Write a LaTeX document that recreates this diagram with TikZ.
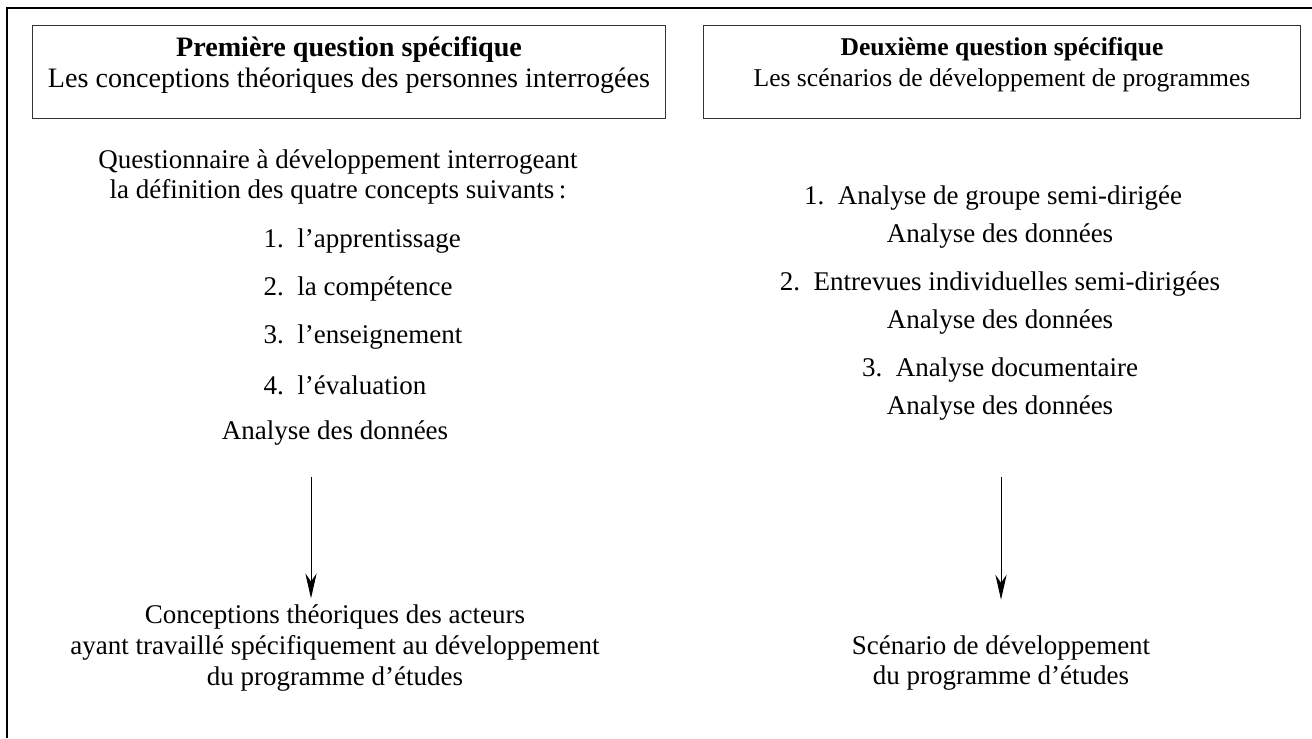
\documentclass[tikz,border=0pt]{standalone}
\usepackage{fontspec}
\setmainfont{Liberation Serif}
\usetikzlibrary{arrows.meta, positioning}

\begin{document}
\begin{tikzpicture}[x=0.025cm, y=-0.025cm]
	\tikzset {>={Stealth[length=0.62cm, width=0.28cm]}, every node/.style={font=\fontsize{19.2}{22}\selectfont, align=center, inner sep=1pt}, head/.style={draw=black!80, line width=0.7pt, minimum height=2.3cm} }

	\useasboundingbox (0,0) rectangle (1312,738);
	\draw[line width=1.6pt] (7,738) -- (7,8) -- (1312,8);

	% the two questions
	\node[head, minimum width=15.8cm] (q1) at (349,72) {};
	\node[font=\fontsize{20}{22}\selectfont] (t1) at (349,65) {\textbf{Première question spécifique}\\Les conceptions théoriques des personnes interrogées};
	\node[head, minimum width=14.9cm] (q2) at (1002,72) {};
	\node[font=\fontsize{18.2}{22}\selectfont] (t2) at (1002,65) {\textbf{Deuxième question spécifique}\\Les scénarios de développement de programmes};

	% first question
	\node (quest) at (338,177) {Questionnaire à développement interrogeant\\la définition des quatre concepts suivants\,:};
	\node[anchor=west] (c1) at (262,241) {1.\ \ l'apprentissage};
	\node[below=1.2cm of c1.west, anchor=west] (c2) {2.\ \ la compétence};
	\node[below=1.2cm of c2.west, anchor=west] (c3) {3.\ \ l'enseignement};
	\node[below=1.2cm of c3.west, anchor=west] (c4) {4.\ \ l'évaluation};
	\node (ana1) at (335,433) {Analyse des données};
	\node (res1) at (335,648) {Conceptions théoriques des acteurs\\ayant travaillé spécifiquement au développement\\du programme d'études};

	% second question
	\node (m1) at (993,198) {1.\ \ Analyse de groupe semi-dirigée};
	\node (d1) at (1000,236) {Analyse des données};
	\node[below=1.2cm of d1.center, anchor=center] (m2) {2.\ \ Entrevues individuelles semi-dirigées};
	\node[below=0.95cm of m2.center, anchor=center] (d2) {Analyse des données};
	\node[below=1.2cm of d2.center, anchor=center] (m3) {3.\ \ Analyse documentaire};
	\node[below=0.95cm of m3.center, anchor=center] (d3) {Analyse des données};
	\node (res2) at (1001,663) {Scénario de développement\\du programme d'études};

	\draw[->, line width=0.6pt, shorten <=0.75cm, shorten >=0.12cm] ([xshift=-0.6cm]ana1.south) -- ([xshift=-0.6cm]res1.north);
	\draw[->, line width=0.6pt, shorten <=1.375cm, shorten >=0.85cm] (d3.south -| res2.north) -- (res2.north);
\end{tikzpicture}
\end{document}
